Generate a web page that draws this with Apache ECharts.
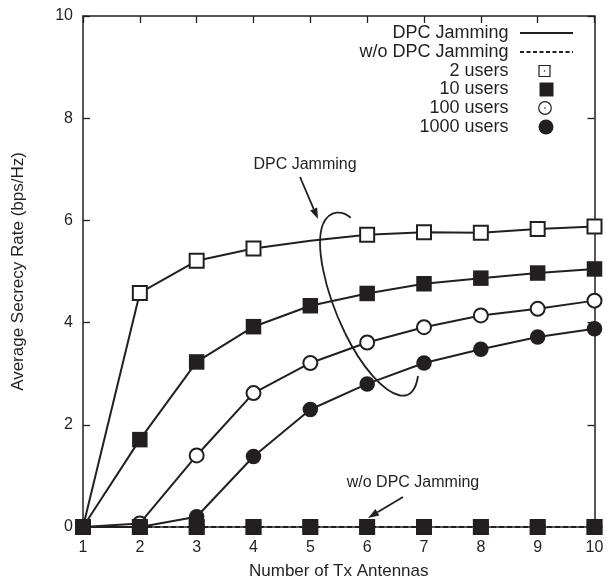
<!DOCTYPE html>
<html>
<head>
<meta charset="utf-8">
<script src="https://cdn.jsdelivr.net/npm/echarts@6/dist/echarts.min.js"></script>
<style>
html,body{margin:0;padding:0;background:#fff;}
#chart{width:607px;height:585px;}
</style>
</head>
<body>
<div id="chart"></div>
<script>
// ---- data ----
var antennas = [1, 2, 3, 4, 5, 6, 7, 8, 9, 10];
var dpc2 = [0, 4.58, 5.21, 5.45, 5.60, 5.72, 5.77, 5.76, 5.83, 5.88];
var dpc10 = [0, 1.71, 3.23, 3.92, 4.33, 4.57, 4.76, 4.87, 4.97, 5.05];
var dpc100 = [0, 0.07, 1.40, 2.62, 3.21, 3.61, 3.91, 4.14, 4.27, 4.43];
var dpc1000 = [0, 0, 0.20, 1.38, 2.30, 2.80, 3.21, 3.48, 3.72, 3.88];
var wo2 = [0, 0, 0, 0, 0, 0, 0, 0, 0, 0];
var wo10 = [0, 0, 0, 0, 0, 0, 0, 0, 0, 0];
var wo100 = [0, 0, 0, 0, 0, 0, 0, 0, 0, 0];
var wo1000 = [0, 0, 0, 0, 0, 0, 0, 0, 0, 0];
var yTicks = [0, 2, 4, 6, 8, 10];
var legendNames = ['DPC Jamming', 'w/o DPC Jamming', '2 users', '10 users', '100 users', '1000 users'];
var missingMarker2 = [5]; // x at which the 2-users marker is absent in the original

var INK = '#231f20';
var FONT = '"Liberation Sans", Arial, Helvetica, sans-serif';

function pairs(ys, hideAt) {
  return antennas.map(function (x, i) {
    var p = { value: [x, ys[i]] };
    if (hideAt && hideAt.indexOf(x) >= 0) p.symbol = 'none';
    return p;
  });
}

var openSq = { symbol: 'rect', symbolSize: 14, itemStyle: { color: '#fff', borderColor: INK, borderWidth: 2 } };
var fillSq = { symbol: 'rect', symbolSize: 15.5, itemStyle: { color: INK, borderColor: INK, borderWidth: 0 } };
var openCi = { symbol: 'circle', symbolSize: 14, itemStyle: { color: '#fff', borderColor: INK, borderWidth: 2 } };
var fillCi = { symbol: 'circle', symbolSize: 15.5, itemStyle: { color: INK, borderColor: INK, borderWidth: 0 } };

function mk(name, ys, sym, dashed, z, hideAt) {
  return {
    name: name, type: 'line', data: pairs(ys, hideAt),
    symbol: sym.symbol, symbolSize: sym.symbolSize, showSymbol: true,
    itemStyle: sym.itemStyle,
    lineStyle: { color: INK, width: dashed ? 1.8 : 2, type: dashed ? [5, 3] : 'solid' },
    clip: false, z: z, animation: false, silent: true
  };
}

var series = [
  mk('dpc1000', dpc1000, fillCi, false, 2),
  mk('dpc100', dpc100, openCi, false, 3),
  mk('dpc10', dpc10, fillSq, false, 4),
  mk('dpc2', dpc2, openSq, false, 5, missingMarker2),
  mk('wo2', wo2, openSq, true, 6),
  mk('wo100', wo100, openCi, true, 7),
  mk('wo1000', wo1000, fillCi, true, 8),
  mk('wo10', wo10, fillSq, true, 9)
];

// arrow helper (annotation only)
function arrow(x1, y1, x2, y2) {
  var dx = x2 - x1, dy = y2 - y1, L = Math.sqrt(dx * dx + dy * dy);
  var ux = dx / L, uy = dy / L, hl = 11, hw = 3.8;
  var bx = x2 - ux * hl, by = y2 - uy * hl;
  return [
    { type: 'line', shape: { x1: x1, y1: y1, x2: bx, y2: by }, style: { stroke: INK, lineWidth: 1.8 }, z: 20 },
    { type: 'polygon', shape: { points: [[x2, y2], [bx - uy * hw, by + ux * hw], [bx + uy * hw, by - ux * hw]] }, style: { fill: INK }, z: 20 }
  ];
}
function bez(p0, c1, c2, p1) {
  return { type: 'bezierCurve', z: 20,
    shape: { x1: p0[0], y1: p0[1], cpx1: c1[0], cpy1: c1[1], cpx2: c2[0], cpy2: c2[1], x2: p1[0], y2: p1[1] },
    style: { fill: null, stroke: INK, lineWidth: 1.8 } };
}

var LX = 508.5;
var legendRows = [33, 52, 71, 89.5, 108, 127];
var graphics = [];
legendNames.forEach(function (n, i) {
  graphics.push({ type: 'text', x: LX, y: legendRows[i], style: { text: n, font: '18px ' + FONT, fill: INK, textAlign: 'right', textVerticalAlign: 'middle' }, z: 20 });
});
graphics.push({ type: 'line', shape: { x1: 520, y1: legendRows[0], x2: 573, y2: legendRows[0] }, style: { stroke: INK, lineWidth: 2 }, z: 20 });
graphics.push({ type: 'line', shape: { x1: 520, y1: legendRows[1], x2: 573, y2: legendRows[1] }, style: { stroke: INK, lineWidth: 2, lineDash: [4, 2.5] }, z: 20 });
graphics.push({ type: 'rect', shape: { x: 539, y: legendRows[2] - 5.5, width: 11, height: 11 }, style: { fill: '#fff', stroke: INK, lineWidth: 1.2 }, z: 20 });
graphics.push({ type: 'circle', shape: { cx: 544.5, cy: legendRows[2], r: 0.8 }, style: { fill: INK }, z: 21 });
graphics.push({ type: 'rect', shape: { x: 539.5, y: legendRows[3] - 7, width: 14, height: 14 }, style: { fill: INK }, z: 20 });
graphics.push({ type: 'circle', shape: { cx: 545, cy: legendRows[4], r: 6.3 }, style: { fill: '#fff', stroke: INK, lineWidth: 1.2 }, z: 20 });
graphics.push({ type: 'circle', shape: { cx: 545, cy: legendRows[4], r: 0.8 }, style: { fill: INK }, z: 21 });
graphics.push({ type: 'circle', shape: { cx: 546, cy: legendRows[5], r: 7.5 }, style: { fill: INK }, z: 20 });

// annotations
graphics.push({ type: 'text', x: 305, y: 165, style: { text: 'DPC Jamming', font: '16px ' + FONT, fill: INK, textAlign: 'center', textVerticalAlign: 'middle' }, z: 20 });
graphics = graphics.concat(arrow(300, 177, 318, 219));
graphics.push({ type: 'text', x: 413, y: 483, style: { text: 'w/o DPC Jamming', font: '16px ' + FONT, fill: INK, textAlign: 'center', textVerticalAlign: 'middle' }, z: 20 });
graphics = graphics.concat(arrow(403, 497, 368, 518));
graphics.push(bez([350.7, 217.7], [343, 211], [330, 209], [323, 224]));
graphics.push(bez([323, 224], [315, 244], [324, 290], [345, 333]));
graphics.push(bez([345, 333], [362, 368], [384, 392], [400, 395.5]));
graphics.push(bez([400, 395.5], [410, 397], [416, 390], [418, 376]));

function axisCommon() {
  return {
    axisLine: { show: true, onZero: false, lineStyle: { color: INK, width: 1.5 } },
    axisTick: { show: true, inside: true, length: 7, lineStyle: { color: INK, width: 1.3 } },
    splitLine: { show: false }
  };
}

var option = {
  backgroundColor: '#fff',
  animation: false,
  grid: { left: 83, right: 12.5, top: 16, bottom: 57.5, containLabel: false },
  xAxis: [
    Object.assign({
      type: 'value', min: 1, max: 10, interval: 1, position: 'bottom',
      name: 'Number of Tx Antennas', nameLocation: 'middle', nameGap: 36,
      nameTextStyle: { fontSize: 17, color: INK, fontFamily: FONT },
      axisLabel: { fontSize: 16, color: INK, fontFamily: FONT, margin: 13, formatter: function (v) { return antennas.indexOf(v) >= 0 ? String(v) : ''; } }
    }, axisCommon()),
    Object.assign({
      type: 'value', min: 1, max: 10, interval: 1, position: 'top', axisLabel: { show: false }
    }, axisCommon())
  ],
  yAxis: [
    Object.assign({
      type: 'value', min: 0, max: 10, interval: 2, position: 'left',
      name: 'Average Secrecy Rate (bps/Hz)', nameLocation: 'middle', nameGap: 56,
      nameTextStyle: { fontSize: 17, color: INK, fontFamily: FONT },
      axisLabel: { fontSize: 16, color: INK, fontFamily: FONT, margin: 10, formatter: function (v) { return yTicks.indexOf(v) >= 0 ? String(v) : ''; } }
    }, axisCommon()),
    Object.assign({
      type: 'value', min: 0, max: 10, interval: 2, position: 'right', axisLabel: { show: false }
    }, axisCommon())
  ],
  series: series,
  graphic: graphics
};

var chart = echarts.init(document.getElementById('chart'), null, { renderer: 'canvas' });
chart.setOption(option);
</script>
</body>
</html>
